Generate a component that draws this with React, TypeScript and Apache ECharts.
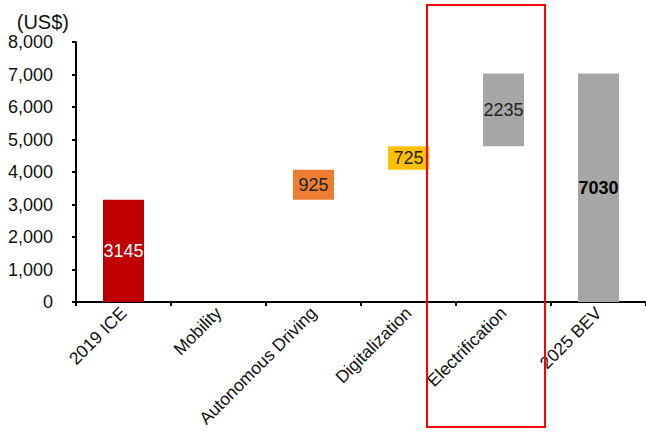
import React, { useEffect, useRef } from "react";
import * as echarts from "echarts";

const categories = ["2019 ICE", "Mobility", "Autonomous Driving", "Digitalization", "Electrification", "2025 BEV"];
const baseValues = [0, 3145, 3145, 4070, 4795, 0];
const deltaValues = [3145, 0, 925, 725, 2235, 7030];
const barColors = ["#c00000", "#a6a6a6", "#ed7d31", "#ffc000", "#a6a6a6", "#a6a6a6"];
const labelColors = ["#ffffff", "#222222", "#222222", "#222222", "#222222", "#000000"];
const labelWeights = ["normal", "normal", "normal", "normal", "normal", "bold"];
const yTicks = { min: 0, max: 8000, interval: 1000 };

export default function App() {
  const ref = useRef<HTMLDivElement>(null);
  useEffect(() => {
    if (!ref.current) return;
    const chart = echarts.init(ref.current, null, { renderer: "svg" });
    const font = "'Liberation Sans', Arial, sans-serif";
    chart.setOption({
      animation: false,
      textStyle: { fontFamily: font },
      grid: { left: 76, right: 0, top: 42, bottom: 130, containLabel: false, outerBoundsMode: "none" },
      xAxis: {
        type: "category",
        data: categories,
        axisLine: { lineStyle: { color: "#000", width: 2 } },
        axisTick: { show: true, length: 4, lineStyle: { color: "#000", width: 2 }, alignWithLabel: false },
        axisLabel: { interval: 0, rotate: 45, fontSize: 17.5, color: "#111", margin: 8, fontFamily: font },
      },
      yAxis: {
        type: "value",
        min: yTicks.min,
        max: yTicks.max,
        interval: yTicks.interval,
        name: "(US$)",
        nameLocation: "end",
        nameGap: 10,
        nameTextStyle: { fontSize: 20, color: "#111", align: "right", padding: [0, 7, 0, 0], fontFamily: font },
        splitLine: { show: false },
        axisLine: { show: true, lineStyle: { color: "#000", width: 2 } },
        axisTick: { show: true, length: 4, lineStyle: { color: "#000", width: 2 } },
        axisLabel: {
          fontSize: 18,
          color: "#111",
          margin: 23,
          fontFamily: font,
          formatter: (v: number) => v.toLocaleString("en-US"),
        },
      },
      series: [
        {
          type: "bar",
          stack: "w",
          data: baseValues,
          barWidth: 41,
          itemStyle: { color: "transparent" },
          emphasis: { disabled: true },
          silent: true,
        },
        {
          type: "bar",
          stack: "w",
          barWidth: 41,
          data: deltaValues.map((v, i) => ({
            value: v,
            itemStyle: { color: barColors[i] },
            label: {
              show: v > 0,
              position: "inside",
              color: labelColors[i],
              fontWeight: labelWeights[i],
              fontSize: 18,
              fontFamily: font,
            },
          })),
        },
      ],
      graphic: [
        {
          type: "rect",
          shape: { x: 427, y: 5, width: 118, height: 422 },
          style: { fill: "none", stroke: "#ff0000", lineWidth: 2 },
          z: 100,
        },
      ],
    });
    return () => chart.dispose();
  }, []);
  return <div ref={ref} style={{ width: 646, height: 432, position: "absolute", left: 0, top: 0 }} />;
}
